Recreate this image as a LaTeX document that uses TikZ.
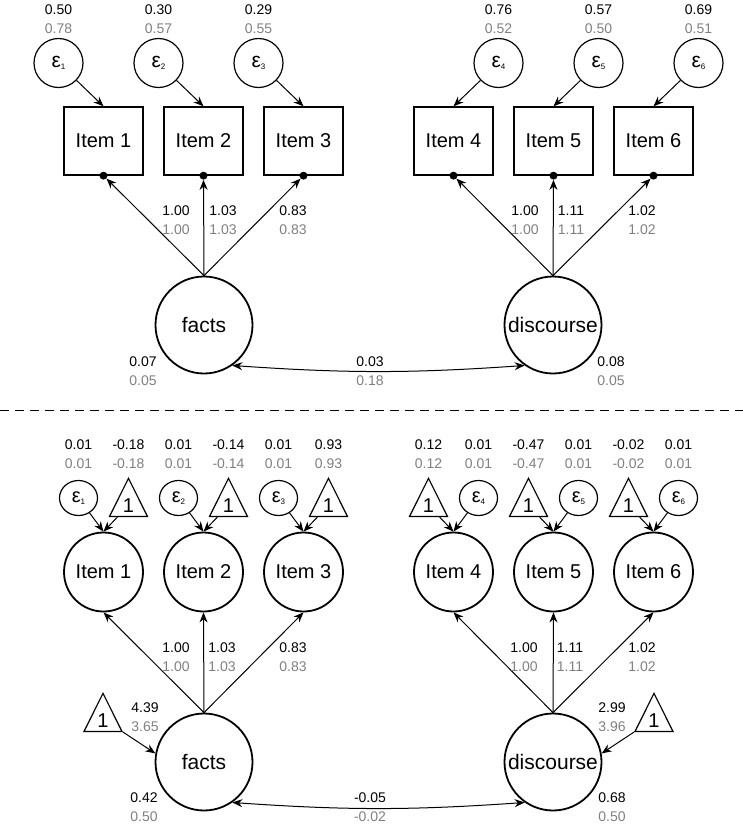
\documentclass[tikz,border=0pt]{standalone}
\usepackage{fontspec}
\setmainfont{Liberation Sans}
\usetikzlibrary{shapes.geometric,arrows.meta}
\definecolor{numgray}{RGB}{128,128,128}
\newcommand{\vals}[2]{#1\\\textcolor{numgray}{#2}}
\newcommand{\eps}[1]{ε\raisebox{-2.5pt}{\fontsize{8}{8}\selectfont#1}}
\begin{document}
\begin{tikzpicture}[x=1pt,y=-1pt,>={Stealth[length=10pt,width=8pt]},
    latent/.style={draw,circle,line width=1.8pt,minimum size=97pt,inner sep=0pt,font=\fontsize{21}{21}\selectfont},
    obsbox/.style={draw,rectangle,line width=1.3pt,minimum width=79pt,minimum height=68pt,font=\fontsize{20}{20}\selectfont},
    obscirc/.style={draw,circle,line width=1.8pt,minimum size=79pt,inner sep=0pt,font=\fontsize{20}{20}\selectfont},
    errbig/.style={draw,circle,line width=1.2pt,minimum size=49pt,inner sep=0pt,font=\fontsize{21}{21}\selectfont},
    errsmall/.style={draw,ellipse,line width=1.2pt,minimum width=38pt,minimum height=35pt,inner sep=0pt,font=\fontsize{20}{20}\selectfont},
    meantri/.style={draw,isosceles triangle,isosceles triangle apex angle=53,shape border rotate=90,line width=1.2pt,inner sep=0pt,minimum height=38pt,minimum width=38pt,font=\fontsize{20}{20}\selectfont},
    dotnode/.style={circle,fill,inner sep=0pt,minimum size=8pt},
    est/.style={align=center,inner sep=0pt,font=\fontsize{14}{18.5}\selectfont},
    arr/.style={->,line width=1pt}]
    \useasboundingbox (0,0) rectangle (743,828);
    % upper model
    \foreach \i/\x in {1/103.5,2/203.5,3/303.5,4/453.5,5/553.5,6/653.5}
        {
            \node[obsbox] (b\i) at (\x,141) {Item \i};
            \node[dotnode] (d\i) at (b\i.south) {};
        }
    \foreach \i/\x/\a/\b in {1/58.5/0.50/0.78,2/158.5/0.30/0.57,3/258.5/0.29/0.55,4/498.5/0.76/0.52,5/598.5/0.57/0.50,6/698.5/0.69/0.51}
        {
            \node[errbig] (e\i) at (\x,63) {\eps{\i}};
            \node[est] (ev\i) at (\x,19) {\vals{\a}{\b}};
            \draw[arr] (e\i) -- (b\i.north);
        }
    \node[latent] (facts1) at (204,325) {facts};
    \node[latent] (disc1) at (553,325) {discourse};
    \foreach \i in {1,2,3}
        {
            \draw[arr] (facts1.north) -- (d\i);
        }
    \foreach \i in {4,5,6}
        {
            \draw[arr] (disc1.north) -- (d\i);
        }
    \foreach \x/\a in {176/1.00,223/1.03,293/0.83,525/1.00,571/1.11,642/1.02}
        {
            \node[est] at (\x,220) {\vals{\a}{\a}};
        }
    \node[est] (fv1) at (143,371) {\vals{0.07}{0.05}};
    \node[est] (dv1) at (611,371) {\vals{0.08}{0.05}};
    \node[est] (cv1) at (370,371) {\vals{0.03}{0.18}};
    \draw[<->,line width=1pt] (facts1.-55) to[bend right=4] (disc1.-125);
    % divider
    \draw[line width=1pt,dash pattern=on 9pt off 6pt] (0,410) -- (743,410);
    % lower model
    \foreach \i/\x in {1/103.5,2/203.5,3/303.5,4/453.5,5/553.5,6/653.5}
        {
            \node[obscirc] (c\i) at (\x,572) {Item \i};
        }
    \foreach \i/\x/\a in {1/78.5/0.01,2/178.5/0.01,3/278.5/0.01,4/478.5/0.01,5/578.5/0.01,6/678.5/0.01}
        {
            \node[errsmall] (s\i) at (\x,498) {\eps{\i}};
            \node[est] (sv\i) at (\x,454) {\vals{\a}{\a}};
            \draw[arr] (s\i) -- (c\i.north);
        }
    \foreach \i/\x/\a in {1/128.5/-0.18,2/228.5/-0.14,3/328.5/0.93,4/428.5/0.12,5/528.5/-0.47,6/628.5/-0.02}
        {
            \node[meantri,anchor=apex] (t\i) at (\x,477) {1};
            \node[est] (tv\i) at (\x,454) {\vals{\a}{\a}};
            \draw[arr] (t\i) -- (c\i.north);
        }
    \node[latent] (facts2) at (204,762) {facts};
    \node[latent] (disc2) at (553,762) {discourse};
    \foreach \i in {1,2,3}
        {
            \draw[arr] (facts2.north) -- (c\i.south);
        }
    \foreach \i in {4,5,6}
        {
            \draw[arr] (disc2.north) -- (c\i.south);
        }
    \foreach \x/\a in {176/1.00,222/1.03,293/0.83,524/1.00,570/1.11,642/1.02}
        {
            \node[est] at (\x,657) {\vals{\a}{\a}};
        }
    \node[meantri,anchor=apex] (m1) at (103,692) {1};
    \node[meantri,anchor=apex] (m2) at (654,692) {1};
    \draw[arr] (m1.right corner) -- (facts2.170);
    \draw[arr] (m2.left corner) -- (disc2.10);
    \node[est] (mv1) at (145,717) {\vals{4.39}{3.65}};
    \node[est] (mv2) at (612,717) {\vals{2.99}{3.96}};
    \node[est] (fv2) at (144,807) {\vals{0.42}{0.50}};
    \node[est] (dv2) at (612,807) {\vals{0.68}{0.50}};
    \node[est] (cv2) at (370,807) {\vals{-0.05}{-0.02}};
    \draw[<->,line width=1pt] (facts2.-55) to[bend right=4] (disc2.-125);
\end{tikzpicture}
\end{document}
